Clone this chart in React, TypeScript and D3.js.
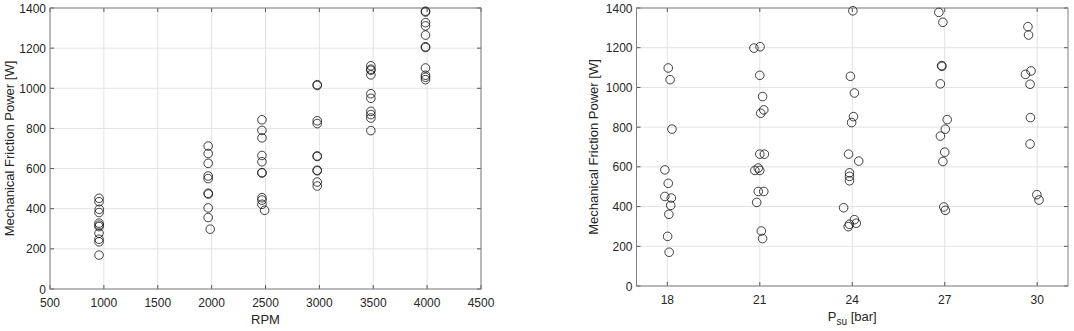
import React, { useEffect, useRef } from "react";
import * as d3 from "d3";

// left panel: engine speed vs friction power
const rpmX = [
  955, 955, 957, 955, 955, 957, 955, 955, 955, 955, 955,
  1968, 1968, 1968, 1968, 1968, 1968, 1970, 1968, 1968, 1987,
  2467, 2467, 2467, 2467, 2467, 2467, 2467, 2467, 2467, 2467, 2492,
  2980, 2980, 2980, 2980, 2980, 2980, 2980, 2980, 2980, 2980,
  3478, 3478, 3478, 3478, 3478, 3478, 3478, 3478, 3478, 3478,
  3985, 3985, 3985, 3985, 3985, 3985, 3985, 3985, 3985, 3985, 3985,
];
const rpmPower = [
  452, 435, 397, 381, 328, 318, 311, 278, 248, 235, 169,
  712, 675, 626, 563, 550, 477, 473, 404, 356, 298,
  843, 790, 753, 665, 634, 580, 578, 455, 443, 422, 392,
  1018, 1014, 838, 824, 663, 660, 592, 589, 533, 513,
  1112, 1095, 1090, 1067, 973, 950, 885, 869, 852, 789,
  1384, 1380, 1327, 1311, 1265, 1207, 1203, 1101, 1065, 1055, 1043,
];
const rpmTicks = [500, 1000, 1500, 2000, 2500, 3000, 3500, 4000, 4500];

// right panel: supply pressure vs friction power
const psuX = [
  18.03, 18.09, 18.15, 17.92, 18.03, 17.92, 18.13, 18.11, 18.05, 18.01, 18.06,
  20.81, 21.01, 21.0, 21.09, 21.13, 21.03, 21.0, 21.15, 20.95, 20.84, 21.0, 20.95, 21.13, 20.9, 21.05, 21.09,
  24.02, 23.94, 24.07, 24.04, 23.98, 23.88, 24.21, 23.91, 23.91, 23.91, 23.72, 24.07, 24.13, 23.91, 23.87,
  26.81, 26.94, 26.9, 26.91, 26.86, 27.08, 27.02, 26.86, 27.0, 26.94, 26.97, 27.02,
  29.7, 29.72, 29.8, 29.62, 29.77, 29.78, 29.77, 29.99, 30.06,
];
const psuPower = [
  1098, 1039, 790, 585, 517, 451, 443, 406, 361, 250, 170,
  1198, 1205, 1061, 954, 887, 870, 664, 664, 594, 582, 582, 476, 476, 421, 277, 239,
  1386, 1056, 972, 853, 823, 664, 629, 570, 552, 530, 394, 334, 316, 311, 299,
  1378, 1328, 1110, 1106, 1018, 838, 790, 755, 674, 627, 398, 381,
  1306, 1264, 1083, 1066, 1016, 848, 715, 460, 433,
];
const psuTicks = [18, 21, 24, 27, 30];

const powerTicks = [0, 200, 400, 600, 800, 1000, 1200, 1400];

const FONT = "'Liberation Sans', Arial, Helvetica, sans-serif";

function drawPanel(svg, o) {
  const x = d3.scaleLinear().domain(o.xDomain).range([o.left, o.right]);
  const y = d3.scaleLinear().domain([0, 1400]).range([o.bottom, o.top]);
  const g = svg.append("g");

  // grid
  g.selectAll(".vg").data(o.xTicks).join("line")
    .attr("x1", d => x(d)).attr("x2", d => x(d))
    .attr("y1", o.top).attr("y2", o.bottom)
    .attr("stroke", "#e3e3e3").attr("stroke-width", 1);
  g.selectAll(".hg").data(powerTicks).join("line")
    .attr("y1", d => y(d)).attr("y2", d => y(d))
    .attr("x1", o.left).attr("x2", o.right)
    .attr("stroke", "#e3e3e3").attr("stroke-width", 1);

  // ticks (inside, all four sides)
  const tk = 4;
  o.xTicks.forEach(d => {
    g.append("line").attr("x1", x(d)).attr("x2", x(d)).attr("y1", o.bottom).attr("y2", o.bottom - tk).attr("stroke", "#555");
    g.append("line").attr("x1", x(d)).attr("x2", x(d)).attr("y1", o.top).attr("y2", o.top + tk).attr("stroke", "#555");
  });
  powerTicks.forEach(d => {
    g.append("line").attr("y1", y(d)).attr("y2", y(d)).attr("x1", o.left).attr("x2", o.left + tk).attr("stroke", "#555");
    g.append("line").attr("y1", y(d)).attr("y2", y(d)).attr("x1", o.right).attr("x2", o.right - tk).attr("stroke", "#555");
  });

  // box
  g.append("rect")
    .attr("x", o.left).attr("y", o.top)
    .attr("width", o.right - o.left).attr("height", o.bottom - o.top)
    .attr("fill", "none").attr("stroke", "#808080").attr("stroke-width", 1);

  // tick labels
  g.selectAll(".xl").data(o.xTicks).join("text")
    .attr("x", d => x(d)).attr("y", o.bottom + 18)
    .attr("text-anchor", "middle")
    .attr("font-size", 12).attr("font-family", FONT).attr("fill", "#262626")
    .text(d => d);
  g.selectAll(".yl").data(powerTicks).join("text")
    .attr("x", o.left - 4).attr("y", d => y(d) + 4.5)
    .attr("text-anchor", "end")
    .attr("font-size", 12).attr("font-family", FONT).attr("fill", "#262626")
    .text(d => d);

  // axis titles
  g.append("text")
    .attr("transform", `translate(${o.yLabelX},${(o.top + o.bottom) / 2}) rotate(-90)`)
    .attr("text-anchor", "middle")
    .attr("font-size", 13).attr("font-family", FONT).attr("fill", "#262626")
    .text("Mechanical Friction Power [W]");
  const xt = g.append("text")
    .attr("x", (o.left + o.right) / 2).attr("y", o.bottom + 35)
    .attr("text-anchor", "middle")
    .attr("font-size", 13).attr("font-family", FONT).attr("fill", "#262626");
  if (o.sub) {
    xt.append("tspan").text(o.xLabel);
    xt.append("tspan").attr("font-size", 10).attr("dy", 4).text(o.sub);
    xt.append("tspan").attr("dy", -4).text(" " + o.xLabel2);
  } else {
    xt.text(o.xLabel);
  }

  // markers
  g.selectAll(".pt").data(o.xs).join("circle")
    .attr("cx", d => x(d)).attr("cy", (d, i) => y(o.ys[i]))
    .attr("r", 4.3)
    .attr("fill", "none").attr("stroke", "#111").attr("stroke-width", 0.8);
}

const App = () => {
  const ref = useRef(null);

  useEffect(() => {
    const svg = d3.select(ref.current);
    svg.selectAll("*").remove();
    drawPanel(svg, {
      xs: rpmX, ys: rpmPower, xTicks: rpmTicks, xDomain: [500, 4500],
      left: 50, right: 481, top: 8, bottom: 289,
      yLabelX: 14, xLabel: "RPM",
    });
    drawPanel(svg, {
      xs: psuX, ys: psuPower, xTicks: psuTicks, xDomain: [17, 31],
      left: 636.5, right: 1068, top: 8, bottom: 286,
      yLabelX: 598, xLabel: "P", sub: "su", xLabel2: "[bar]",
    });
  }, []);

  return (
    <svg ref={ref} width={1074} height={331}
      style={{ position: "absolute", left: 0, top: 0, background: "#fff" }} />
  );
};

export default App;
